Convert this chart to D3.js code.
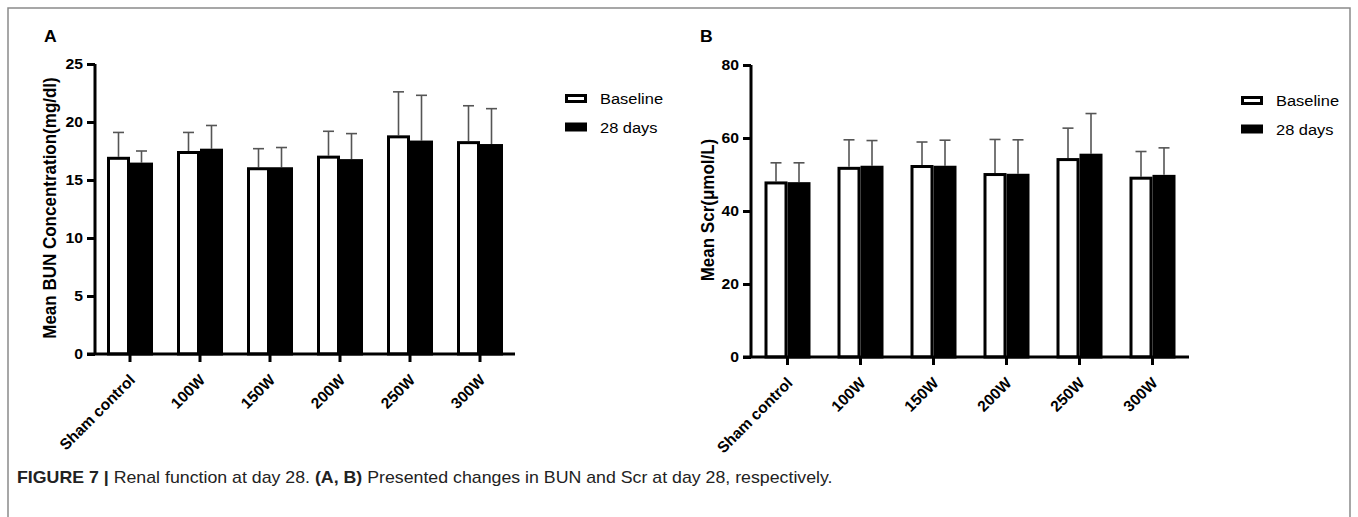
<!DOCTYPE html>
<html>
<head>
<meta charset="utf-8">
<script src="https://cdn.jsdelivr.net/npm/d3@7"></script>
<style>
  body { margin: 0; background: #fff; }
  svg { display: block; font-family: "Liberation Sans", Arial, Helvetica, sans-serif; }
</style>
</head>
<body>
<svg id="fig" width="1358" height="517"></svg>
<script>
// groups on the x axis
const groups = ['Sham control', '100W', '150W', '200W', '250W', '300W'];
const series = ['Baseline', '28 days'];

// BUN (mg/dl), mean and SD
const bunBaseline = [17.0, 17.5, 16.1, 17.1, 18.85, 18.35];
const bunDay28 = [16.5, 17.7, 16.1, 16.8, 18.4, 18.1];
const bunBaselineSd = [2.1, 1.6, 1.6, 2.1, 3.75, 3.05];
const bunDay28Sd = [1.0, 2.0, 1.7, 2.2, 3.9, 3.05];

// Scr (umol/L), mean and SD
const scrBaseline = [48.1, 52.1, 52.6, 50.4, 54.5, 49.4];
const scrDay28 = [47.9, 52.4, 52.4, 50.2, 55.7, 49.9];
const scrBaselineSd = [5.1, 7.4, 6.3, 9.2, 8.2, 6.9];
const scrDay28Sd = [5.3, 6.9, 7.0, 9.3, 11.0, 7.4];

const bunTicks = [0, 5, 10, 15, 20, 25];
const scrTicks = [0, 20, 40, 60, 80];

// the original figure is a touch wider than its fonts
const SX = 1.05;

const svg = d3.select('#fig');

// outer frame of the figure
svg.append('path')
    .attr('d', 'M8,530 V8 H1350 V530')
    .attr('fill', 'none')
    .attr('stroke', '#8a8a8a')
    .attr('stroke-width', 1.5);

function drawPanel(opt) {
    const g = svg.append('g');
    const rows = groups.map((name, i) => ({
        name,
        vals: [
            {key: series[0], v: opt.base[i], sd: opt.baseSd[i]},
            {key: series[1], v: opt.day[i], sd: opt.daySd[i]}
        ]
    }));

    const x = d3.scaleBand().domain(groups).range([opt.left, opt.right]).padding(0);
    const x1 = d3.scaleBand().domain(series).range([-23, 23]).padding(0);
    const y = d3.scaleLinear().domain(opt.domain).range([opt.bottom, opt.top]);

    // error bars (upper only), drawn under the bars
    const eb = g.append('g');
    rows.forEach(r => {
        const cx = x(r.name) + x.bandwidth() / 2;
        r.vals.forEach(d => {
            const bx = cx + x1(d.key) + x1.bandwidth() / 2;
            eb.append('line')
                .attr('x1', bx).attr('x2', bx)
                .attr('y1', y(d.v)).attr('y2', y(d.v + d.sd))
                .attr('stroke', '#555').attr('stroke-width', 1.6);
            eb.append('line')
                .attr('x1', bx - 5.5).attr('x2', bx + 5.5)
                .attr('y1', y(d.v + d.sd)).attr('y2', y(d.v + d.sd))
                .attr('stroke', '#555').attr('stroke-width', 1.6);
        });
    });

    // bars
    rows.forEach(r => {
        const cx = x(r.name) + x.bandwidth() / 2;
        g.append('g')
            .selectAll('rect')
            .data(r.vals)
            .join('rect')
            .attr('x', d => cx + x1(d.key) + 1.5)
            .attr('width', x1.bandwidth() - 3)
            .attr('y', d => y(d.v) + 1.5)
            .attr('height', d => y(0) - y(d.v) - 1.5)
            .attr('fill', d => d.key === 'Baseline' ? '#fff' : '#000')
            .attr('stroke', '#000')
            .attr('stroke-width', 3);
    });

    // y axis
    const ya = g.append('g')
        .attr('transform', `translate(${opt.left},0)`)
        .call(d3.axisLeft(y).tickValues(opt.ticks).tickSize(8).tickPadding(3));
    ya.select('.domain').attr('d', `M0,${opt.top}V${opt.bottom}`).attr('stroke-width', 3);
    ya.selectAll('.tick line').attr('stroke-width', 3);
    ya.selectAll('.tick text')
        .attr('font-size', 15).attr('font-weight', 'bold').attr('fill', '#000')
        .attr('font-family', '"Liberation Sans", Arial, sans-serif')
        .attr('x', 0)
        .attr('transform', `translate(-12,0) scale(${SX},1)`);

    // x axis
    const xa = g.append('g')
        .attr('transform', `translate(0,${opt.bottom})`)
        .call(d3.axisBottom(x).tickSize(8).tickSizeOuter(0));
    xa.select('.domain').attr('d', `M${opt.left - 8},0H${opt.right}`).attr('stroke-width', 3);
    xa.selectAll('.tick line').attr('stroke-width', 3);
    xa.selectAll('.tick text')
        .attr('font-size', 15.5).attr('font-weight', 'bold').attr('fill', '#000')
        .attr('font-family', '"Liberation Sans", Arial, sans-serif')
        .attr('text-anchor', 'end')
        .attr('y', 0).attr('dy', 0)
        .attr('transform', 'translate(6,27) rotate(-45)');

    // y axis title
    g.append('text')
        .attr('transform', `translate(${opt.titleX},${opt.titleY}) scale(${SX},1) rotate(-90)`)
        .attr('text-anchor', 'middle')
        .attr('font-size', 17).attr('font-weight', 'bold')
        .text(opt.title);

    // panel letter
    g.append('text')
        .attr('transform', `translate(${opt.letterX},42) scale(1.1,1)`)
        .attr('font-size', 16).attr('font-weight', 'bold')
        .text(opt.letter);

    // legend
    const lg = g.append('g').attr('transform', `translate(${opt.legendX},0)`);
    series.forEach((s, i) => {
        const cy = opt.legendY + i * 28.5;
        lg.append('rect')
            .attr('x', 1.5).attr('y', cy - 3.5)
            .attr('width', 19).attr('height', 6)
            .attr('fill', s === 'Baseline' ? '#fff' : '#000')
            .attr('stroke', '#000').attr('stroke-width', 3);
        lg.append('text')
            .attr('transform', `translate(35,${cy}) scale(1.06,1)`)
            .attr('dy', '0.35em')
            .attr('font-size', 15.5)
            .text(s);
    });
}

drawPanel({
    letter: 'A', letterX: 44,
    base: bunBaseline, day: bunDay28, baseSd: bunBaselineSd, daySd: bunDay28Sd,
    domain: [0, 25], ticks: bunTicks,
    left: 95, right: 515, top: 64, bottom: 354,
    title: 'Mean BUN Concentration(mg/dl)', titleX: 56, titleY: 208,
    legendX: 565, legendY: 99
});

drawPanel({
    letter: 'B', letterX: 700,
    base: scrBaseline, day: scrDay28, baseSd: scrBaselineSd, daySd: scrDay28Sd,
    domain: [0, 80], ticks: scrTicks,
    left: 751, right: 1189, top: 65, bottom: 357,
    title: 'Mean Scr(\u03bcmol/L)', titleX: 714, titleY: 210,
    legendX: 1241, legendY: 101
});

// caption
const cap = svg.append('text')
    .attr('transform', 'translate(17,483) scale(1.11,1)')
    .attr('font-size', 16)
    .attr('fill', '#222');
cap.append('tspan').attr('font-weight', 'bold').text('FIGURE 7 | ');
cap.append('tspan').text('Renal function at day 28. ');
cap.append('tspan').attr('font-weight', 'bold').text('(A, B)');
cap.append('tspan').text(' Presented changes in BUN and Scr at day 28, respectively.');
</script>
</body>
</html>
